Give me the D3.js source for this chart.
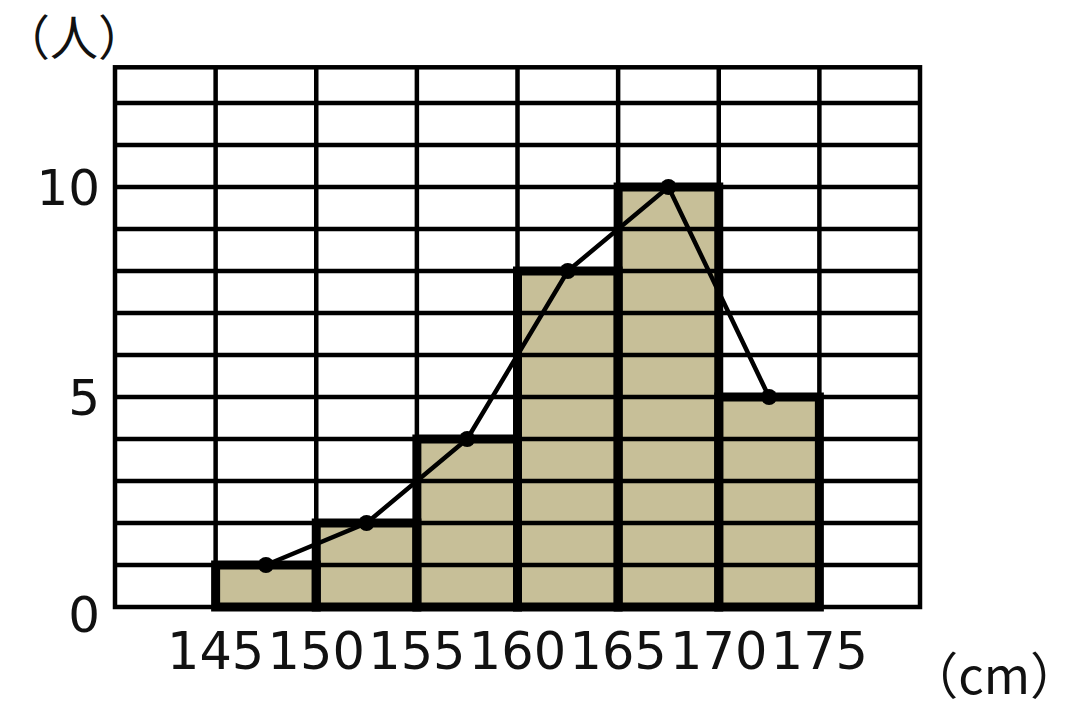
<!DOCTYPE html>
<html><head><meta charset="utf-8">
<script src="https://cdn.jsdelivr.net/npm/d3@7"></script>
<style>body{margin:0;background:#fff}svg{display:block}</style>
</head><body>
<script>
const binEdges = [145,150,155,160,165,170,175];
const counts = [1,2,4,8,10,5];
const yTicks = [0,5,10];
const yLabel = "（人）";
const xLabel = "（cm）";

const W=1084,H=712;
const svg=d3.select("body").append("svg").attr("width",W).attr("height",H);
const x=d3.scaleLinear().domain([140,180]).range([115,920]);
const y=d3.scaleLinear().domain([0,10]).range([607,187]);
const yTop=12.85;
const gw=4.5;

const g=svg.append("g");
const hLines=d3.range(1,13);
g.selectAll(".h").data(hLines).join("line")
 .attr("x1",x(140)).attr("x2",x(180)).attr("y1",d=>y(d)).attr("y2",d=>y(d))
 .attr("stroke","#000").attr("stroke-width",gw);
const vLines=d3.range(145,180,5);
g.selectAll(".v").data(vLines).join("line")
 .attr("x1",d=>x(d)).attr("x2",d=>x(d)).attr("y1",y(0)).attr("y2",y(yTop))
 .attr("stroke","#000").attr("stroke-width",gw);
g.append("rect").attr("x",x(140)).attr("y",y(yTop)).attr("width",x(180)-x(140)).attr("height",y(0)-y(yTop))
 .attr("fill","none").attr("stroke","#000").attr("stroke-width",gw);

const bins=counts.map((c,i)=>({x0:binEdges[i],x1:binEdges[i+1],c}));
g.selectAll(".barfill").data(bins).join("rect")
 .attr("x",d=>x(d.x0)).attr("width",d=>x(d.x1)-x(d.x0))
 .attr("y",d=>y(d.c)).attr("height",d=>y(0)-y(d.c))
 .attr("fill","#c7bf98");
bins.forEach(b=>{
  d3.range(1,b.c).forEach(v=>{
    g.append("line").attr("x1",x(b.x0)).attr("x2",x(b.x1)).attr("y1",y(v)).attr("y2",y(v))
     .attr("stroke","#000").attr("stroke-width",gw);
  });
});
g.selectAll(".barout").data(bins).join("rect")
 .attr("x",d=>x(d.x0)).attr("width",d=>x(d.x1)-x(d.x0))
 .attr("y",d=>y(d.c)).attr("height",d=>y(0)-y(d.c))
 .attr("fill","none").attr("stroke","#000").attr("stroke-width",9);

const pts=bins.map(b=>[x((b.x0+b.x1)/2),y(b.c)]);
g.append("path").attr("d",d3.line()(pts)).attr("fill","none").attr("stroke","#000").attr("stroke-width",4.5);
g.selectAll(".pt").data(pts).join("circle").attr("cx",d=>d[0]).attr("cy",d=>d[1]).attr("r",8).attr("fill","#000");

const font="'DejaVu Sans', sans-serif";
svg.selectAll(".yt").data(yTicks).join("text")
 .attr("x",100).attr("y",d=>y(d)+(d===0?25:18)).attr("text-anchor","end")
 .attr("font-family",font).attr("font-size",50).attr("fill","#111").text(d=>d);
svg.selectAll(".xt").data(binEdges).join("text")
 .attr("x",d=>x(d)).attr("y",669).attr("text-anchor","middle")
 .attr("font-family",font).attr("font-size",51).attr("fill","#111").text(d=>d);
svg.append("text").attr("x",2).attr("y",55).attr("font-family","'Noto Sans CJK JP', sans-serif")
 .attr("font-size",48).attr("fill","#111").text(yLabel);
svg.append("text").attr("x",1080).attr("y",694).attr("text-anchor","end").attr("font-family","'Noto Sans CJK JP', sans-serif")
 .attr("font-size",50).attr("fill","#111").text(xLabel);
</script>
</body></html>
